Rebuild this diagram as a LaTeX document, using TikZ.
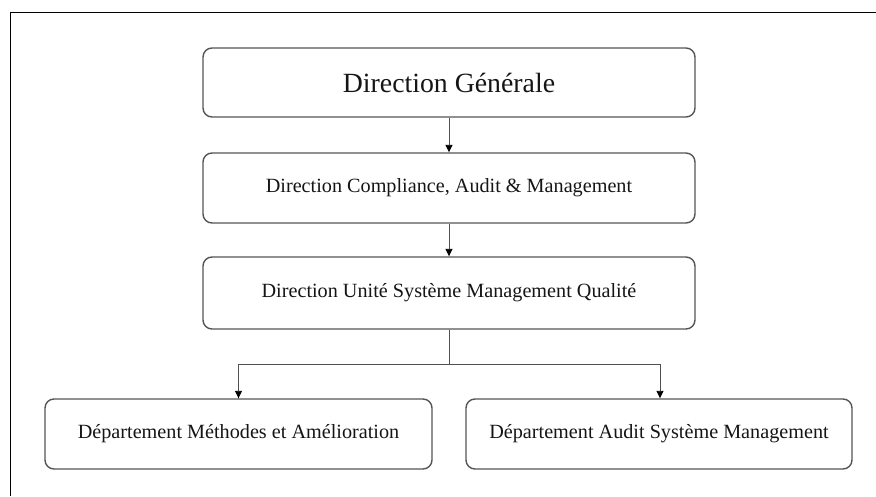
\documentclass[tikz,border=0pt]{standalone}
\usepackage{fontspec}
\setmainfont{Liberation Serif}
\usetikzlibrary{arrows.meta}
\definecolor{boxline}{HTML}{555555}
\definecolor{linkline}{HTML}{505050}
\definecolor{txt}{HTML}{151515}
\begin{document}
\begin{tikzpicture}[x=1pt,y=-1pt,
  orgbox/.style={draw=boxline, line width=1.4pt, rounded corners=9pt,
    inner sep=0pt, text=txt, font=\fontsize{20.2}{24}\selectfont},
  link/.style={draw=linkline, line width=0.9pt},
  linkarrow/.style={link, -{Triangle[width=7pt,length=7.5pt,color=black]}}]
  \useasboundingbox (0,0) rectangle (876,496);
  % page frame
  \draw[black, line width=1.1pt] (10.5,496) -- (10.5,12.5) -- (876,12.5);

  % boxes
  \node[orgbox, minimum width=492pt, minimum height=69pt,
        font=\fontsize{27.8}{32}\selectfont] (dg) at (449,82.5) {Direction Générale};
  \node[orgbox, minimum width=492pt, minimum height=70pt] (dcam) at (449,188) {Direction Compliance, Audit \& Management};
  \node[orgbox, minimum width=492pt, minimum height=72pt] (dusmq) at (449,293) {Direction Unité Système Management Qualité};
  \node[orgbox, minimum width=387pt, minimum height=70pt] (dma) at (238.5,434) {Département Méthodes et Amélioration};
  \node[orgbox, minimum width=386pt, minimum height=70pt] (dasm) at (659,434) {Département Audit Système Management};

  % connectors
  \coordinate (split) at (449,364);
  \draw[linkarrow] (dg) -- (dcam);
  \draw[linkarrow] (dcam) -- (dusmq);
  \draw[link] (dusmq) -- (split);
  \draw[linkarrow] (split) -| (dma);
  \draw[linkarrow] (split) -| ([xshift=1pt]dasm.north);
\end{tikzpicture}
\end{document}
